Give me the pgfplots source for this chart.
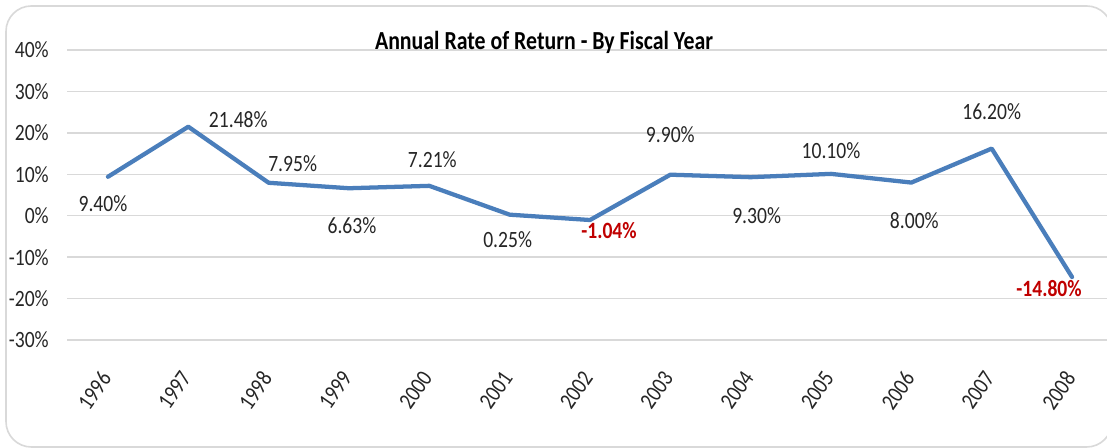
\documentclass[border=0pt]{standalone}
\usepackage{fontspec}
\setmainfont{Carlito}[FakeStretch=0.84]
\usepackage{pgfplots}
\usepackage{pgfplotstable}
\pgfplotsset{compat=1.18}

\definecolor{lineblue}{HTML}{4A7EBB}
\definecolor{gridgray}{HTML}{D9D9D9}
\definecolor{negred}{HTML}{C00000}
\definecolor{txt}{HTML}{262626}

% fiscal year index, return in %
\pgfplotstableread{
x y
0 9.40
1 21.48
2 7.95
3 6.63
4 7.21
5 0.25
6 -1.04
7 9.90
8 9.30
9 10.10
10 8.00
11 16.20
12 -14.80
}\returns

% label offsets in px (dx right, dy down)
\pgfplotstableread{
x y dx dy
0 9.40 -5 27
1 21.48 50 -7
2 7.95 24 -19
3 6.63 3 37
4 7.21 3 -26
5 0.25 -2 25
7 9.90 0 -40
8 9.30 6 38
9 10.10 0 -23
10 8.00 3 38
11 16.20 0 -37
}\poslabels

\pgfplotstableread{
x y dx dy
6 -1.04 19 11
12 -14.80 -23 12
}\neglabels

\begin{document}
\begin{tikzpicture}[font=\fontsize{17.5}{21}\selectfont]
\useasboundingbox (0,0) rectangle (830.25pt,336pt);
\fill[white] (0,0) rectangle (830.25pt,336pt);
\draw[gridgray, line width=1.2pt, rounded corners=19pt] (4.5pt,0.75pt) rectangle (834pt,331.5pt);

\begin{axis}[
    at={(50.25pt,81pt)}, anchor=south west,
    scale only axis,
    width=783.9pt, height=217.5pt,
    xmin=-0.51, xmax=12.5,
    ymin=-30, ymax=40,
    axis line style={draw=none},
    major tick length=0pt,
    ymajorgrids,
    grid style={gridgray, line width=1.1pt},
    xtick={0,1,2,3,4,5,6,7,8,9,10,11,12},
    xticklabels={1996,1997,1998,1999,2000,2001,2002,2003,2004,2005,2006,2007,2008},
    ytick={-30,-20,-10,0,10,20,30,40},
    /pgf/number format/assume math mode=true,
    yticklabel={\pgfmathprintnumber{\tick}\%},
    yticklabel style={anchor=east, inner sep=0pt, xshift=-13.5pt, text=txt},
    xticklabel style={yshift=-22pt, xshift=-6.5pt, rotate=55, anchor=north east, inner sep=0pt, text=txt},
    clip=false,
]
\addplot[lineblue, line width=3.2pt, line join=round, line cap=round, mark=none]
    table[x=x, y=y] {\returns};

\addplot[draw=none, mark=none,
    nodes near coords={\pgfmathprintnumber[fixed,fixed zerofill,precision=2]{\pgfplotspointmeta}\%},
    point meta=\thisrow{y},
    visualization depends on={\thisrow{dx} \as \dx},
    visualization depends on={\thisrow{dy} \as \dy},
    every node near coord/.append style={anchor=center, inner sep=0pt,
        xshift={\dx*0.75pt}, yshift={-\dy*0.75pt}, text=txt}]
    table[x=x, y=y] {\poslabels};

\addplot[draw=none, mark=none,
    nodes near coords={\pgfmathprintnumber[fixed,fixed zerofill,precision=2]{\pgfplotspointmeta}\%},
    point meta=\thisrow{y},
    visualization depends on={\thisrow{dx} \as \dx},
    visualization depends on={\thisrow{dy} \as \dy},
    every node near coord/.append style={anchor=center, inner sep=0pt,
        xshift={\dx*0.75pt}, yshift={-\dy*0.75pt}, text=negred, font=\fontsize{17.5}{21}\selectfont\bfseries}]
    table[x=x, y=y] {\neglabels};
\end{axis}

\node[font=\fontsize{19.5}{23}\selectfont\bfseries, text=black] at (408pt,304pt)
    {Annual Rate of Return - By Fiscal Year};
\end{tikzpicture}
\end{document}
